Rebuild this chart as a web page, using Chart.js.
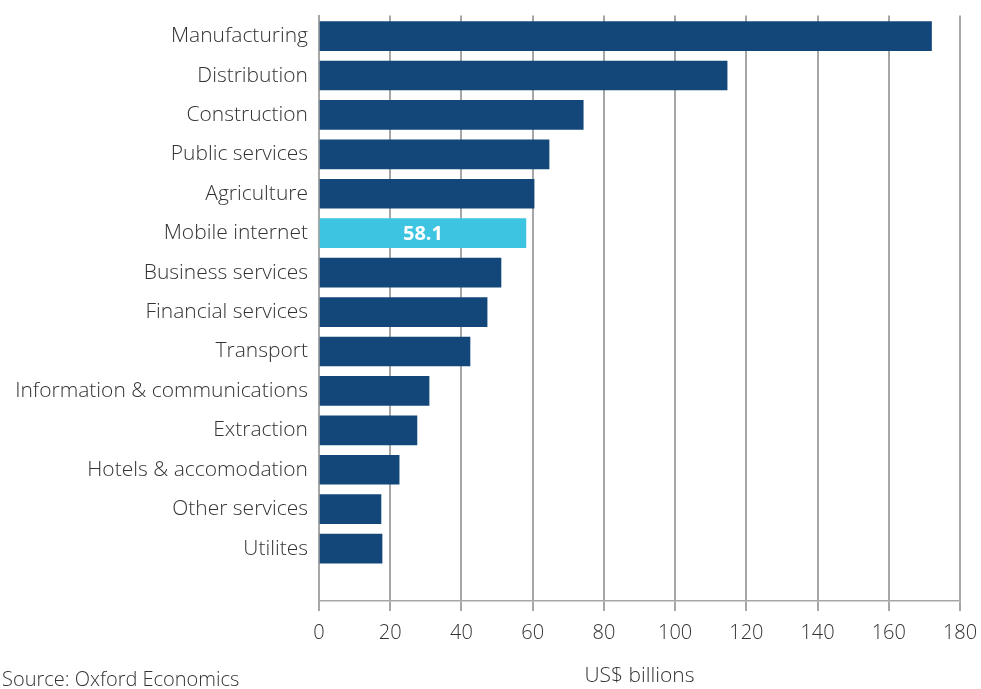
<!DOCTYPE html>
<html>
<head>
<meta charset="utf-8">
<title>Sector contribution, US$ billions</title>
<script src="https://cdn.jsdelivr.net/npm/chart.js@4/dist/chart.umd.min.js"></script>
<style>
  html, body { margin: 0; padding: 0; background: #ffffff; }
  #wrap { position: relative; width: 981px; height: 689px; }
</style>
</head>
<body>
<div id="wrap"><canvas id="sectors" width="981" height="689"></canvas></div>
<script>
/* ---- data ---- */
var sectors = [
    'Manufacturing', 'Distribution', 'Construction', 'Public services',
    'Agriculture', 'Mobile internet', 'Business services', 'Financial services',
    'Transport', 'Information & communications', 'Extraction',
    'Hotels & accomodation', 'Other services', 'Utilites'
];
var values = [172, 114.6, 74.2, 64.6, 60.4, 58.1, 51.1, 47.2, 42.4, 30.9, 27.5, 22.5, 17.4, 17.7];
var xTicks = [0, 20, 40, 60, 80, 100, 120, 140, 160, 180];
var highlight = 'Mobile internet';

var NAVY = '#13477a';
var CYAN = '#3cc4e1';
var GRID = '#a6a6a6';
var TEXT = '#333333';
var FONT = "'Open Sans', 'Liberation Sans', sans-serif";

(function() {
    'use strict';

    var hiIndex = sectors.indexOf(highlight);

    /* white value label inside the highlighted bar */
    var valueLabel = {
        id: 'valueLabel',
        afterDatasetsDraw: function(chart) {
            var bar = chart.getDatasetMeta(0).data[hiIndex];
            if (!bar) return;
            var ctx = chart.ctx;
            ctx.save();
            ctx.fillStyle = '#ffffff';
            ctx.font = 'bold 20px ' + FONT;
            ctx.textAlign = 'center';
            ctx.textBaseline = 'middle';
            ctx.fillText(values[hiIndex].toFixed(1), (bar.x + bar.base) / 2, bar.y + 1);
            ctx.restore();
        }
    };

    /* source note, bottom left */
    var sourceNote = {
        id: 'sourceNote',
        afterDraw: function(chart) {
            var ctx = chart.ctx;
            ctx.save();
            ctx.fillStyle = TEXT;
            ctx.font = '300 20px ' + FONT;
            ctx.textAlign = 'left';
            ctx.textBaseline = 'middle';
            ctx.fillText('Source: Oxford Economics', 2, 680);
            ctx.restore();
        }
    };

    new Chart(document.getElementById('sectors'), {
        type: 'bar',
        data: {
            datasets: [{
                data: values.map(function(v, i) { return { x: v, y: i }; }),
                backgroundColor: sectors.map(function(s, i) { return i === hiIndex ? CYAN : NAVY; }),
                barThickness: 29,
                borderWidth: 0
            }]
        },
        options: {
            indexAxis: 'y',
            responsive: false,
            animation: false,
            layout: { padding: { top: 15, right: 21, bottom: 0, left: 0 } },
            plugins: {
                legend: { display: false },
                tooltip: { enabled: false }
            },
            scales: {
                x: {
                    type: 'linear',
                    min: 0,
                    max: 180,
                    afterFit: function(scale) {
                        scale.height = 88;
                        // edge labels fit inside the layout padding already
                        scale.paddingLeft = 0;
                        scale.paddingRight = 0;
                    },
                    afterBuildTicks: function(scale) {
                        scale.ticks = xTicks.map(function(v) { return { value: v }; });
                    },
                    grid: {
                        color: GRID,
                        lineWidth: 2,
                        drawTicks: true,
                        tickLength: 10
                    },
                    border: { display: true, color: GRID, width: 1.5 },
                    ticks: {
                        color: TEXT,
                        padding: 10,
                        font: { size: 20, weight: '300', family: FONT }
                    },
                    title: {
                        display: true,
                        text: 'US$ billions',
                        color: TEXT,
                        padding: { top: 0, bottom: 0 },
                        font: { size: 21, weight: '300', family: FONT }
                    }
                },
                y: {
                    type: 'linear',
                    reverse: true,
                    offset: false,
                    min: -0.52,
                    max: 14.33,
                    afterFit: function(scale) { scale.width = 319; },
                    afterBuildTicks: function(scale) {
                        scale.ticks = sectors.map(function(s, i) { return { value: i }; });
                    },
                    grid: { display: false, offset: false },
                    border: { display: true, color: GRID, width: 2 },
                    ticks: {
                        color: TEXT,
                        padding: 3,
                        autoSkip: false,
                        font: { size: 21, weight: '300', family: FONT },
                        callback: function(v) { return sectors[v] || ''; }
                    }
                }
            }
        },
        plugins: [valueLabel, sourceNote]
    });
})();
</script>
</body>
</html>
